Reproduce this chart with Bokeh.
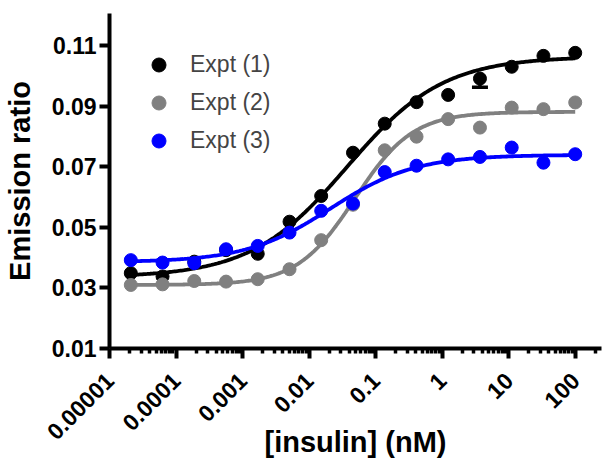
import numpy as np
from bokeh.plotting import figure
from bokeh.models import FixedTicker, Legend, LegendItem, Whisker, ColumnDataSource, TeeHead, Range1d
from bokeh.embed import file_html
from bokeh.resources import INLINE
from math import pi

# ---- data ----
conc = [2.09e-5, 6.27e-5, 1.88e-4, 5.65e-4, 1.69e-3, 5.08e-3, 0.0152, 0.0457,
        0.137, 0.412, 1.23, 3.70, 11.1, 33.3, 100.0]
expt1 = [0.0349, 0.0338, 0.0387, 0.0425, 0.0413, 0.0519, 0.0604, 0.0747,
         0.0843, 0.0914, 0.0938, 0.0992, 0.1031, 0.1067, 0.1077]
expt2 = [0.0310, 0.0312, 0.0323, 0.0321, 0.0329, 0.0362, 0.0458, 0.0575,
         0.0755, 0.0800, 0.0858, 0.0830, 0.0896, 0.0891, 0.0913]
expt3 = [0.0392, 0.0384, 0.0382, 0.0428, 0.0439, 0.0483, 0.0555, 0.0579,
         0.0683, 0.0704, 0.0725, 0.0733, 0.0764, 0.0714, 0.0742]
# one visible (lower) error bar on Expt (1)
err1_index = 11
err1_lower = 0.0029

# sigmoidal fit parameters (bottom, top, logEC50, Hill slope) estimated from the curves
fit1 = (0.0335, 0.1065, -1.43, 0.60)
fit2 = (0.0310, 0.0882, -1.31, 1.00)
fit3 = (0.0385, 0.0740, -1.68, 0.68)

series_names = ["Expt (1)", "Expt (2)", "Expt (3)"]
series_colors = ["#000000", "#808080", "#0000FF"]

x_ticks = [1e-5, 1e-4, 1e-3, 1e-2, 1e-1, 1.0, 10.0, 100.0]
x_tick_labels = ["0.00001", "0.0001", "0.001", "0.01", "0.1", "1", "10", "100"]
y_ticks = [0.01, 0.03, 0.05, 0.07, 0.09, 0.11]


def four_pl(x, bottom, top, logec50, hill):
    return bottom + (top - bottom) / (1.0 + 10 ** ((logec50 - np.log10(x)) * hill))


FONT = "Liberation Sans"

p = figure(width=603, height=463, x_axis_type="log",
           x_range=Range1d(1e-5, 10 ** 2.395), y_range=Range1d(0.01, 0.1207),
           output_backend="svg", toolbar_location=None,
           min_border_left=108, min_border_right=2, min_border_top=13, min_border_bottom=115)
p.outline_line_color = None
p.xgrid.visible = False
p.ygrid.visible = False
p.background_fill_color = "white"
p.border_fill_color = "white"

x_fit = np.logspace(np.log10(conc[0]), np.log10(conc[-1]), 300)

renderers = []
for ys, fit, col in zip([expt1, expt2, expt3], [fit1, fit2, fit3], series_colors):
    p.line(x_fit, four_pl(x_fit, *fit), line_color=col, line_width=3.8)
    r = p.scatter(conc, ys, size=13, fill_color=col, line_color=col, marker="circle")
    renderers.append(r)
    if col == series_colors[0]:
        src = ColumnDataSource(dict(x=[conc[err1_index]],
                                    lo=[expt1[err1_index] - err1_lower],
                                    hi=[expt1[err1_index]]))
        w = Whisker(base="x", lower="lo", upper="hi", source=src, line_width=3.5,
                    line_color=col, upper_head=None,
                    lower_head=TeeHead(size=16, line_width=3.5, line_color=col))
        p.add_layout(w)

# axes
for ax in (p.xaxis[0], p.yaxis[0]):
    ax.axis_line_width = 4
    ax.major_tick_line_width = 4
    ax.minor_tick_line_width = 3.5
    ax.major_tick_out = 10
    ax.major_tick_in = 0
    ax.minor_tick_in = 0
    ax.major_label_text_font = FONT
    ax.major_label_text_font_style = "bold"
    ax.major_label_text_font_size = "23px"
    ax.major_label_text_color = "black"
    ax.axis_label_text_font = FONT
    ax.axis_label_text_font_style = "bold"
    ax.axis_label_text_font_size = "29px"
    ax.axis_label_text_color = "black"

minor = [k * t for t in x_ticks for k in range(2, 10)] + [k * 1e-6 for k in range(2, 10)]
p.xaxis.ticker = FixedTicker(ticks=x_ticks, minor_ticks=minor)
p.xaxis.major_label_overrides = {t: l for t, l in zip(x_ticks, x_tick_labels)}
p.xaxis.major_label_orientation = pi / 4
p.xaxis.minor_tick_out = 5
p.xaxis.major_label_standoff = 18
p.xaxis.axis_label = "[insulin] (nM)"
p.xaxis.axis_label_standoff = -24

p.yaxis.ticker = FixedTicker(ticks=y_ticks, minor_ticks=[])
p.yaxis.major_label_overrides = {t: f"{t:.2f}" for t in y_ticks}
p.yaxis.major_label_standoff = 3
p.yaxis.axis_label = "Emission ratio"
p.yaxis.axis_label_standoff = 13

legend = Legend(items=[LegendItem(label=n, renderers=[r]) for n, r in zip(series_names, renderers)],
                location=(32, 190), label_text_font=FONT, label_text_font_size="23px",
                glyph_width=35, glyph_height=35, label_standoff=14, spacing=3,
                padding=0, margin=0, border_line_color=None, background_fill_alpha=0,
                label_height=35)
p.add_layout(legend)

open("out.html", "w").write(file_html(p, INLINE))
